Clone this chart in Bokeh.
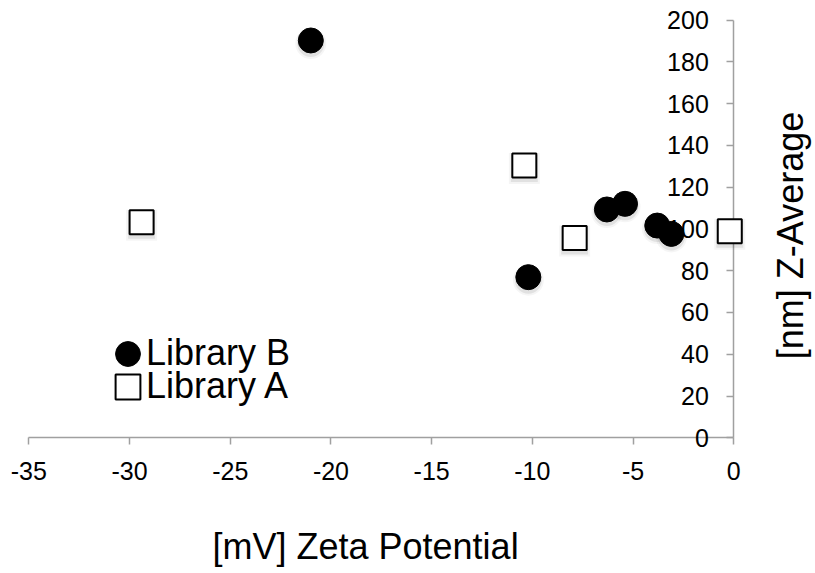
import math
from bokeh.plotting import figure
from bokeh.models import (LinearAxis, FixedTicker, Range1d, Legend, LegendItem,
                          CustomJSTickFormatter, Label, ColumnDataSource)
from bokeh.transform import dodge
from bokeh.embed import file_html
from bokeh.resources import INLINE

# ---- data ----
series_names = ["Library B", "Library A"]
lib_b_x = [-21.0, -10.2, -6.3, -5.4, -3.8, -3.1]
lib_b_y = [190.2, 76.9, 109.3, 112.0, 101.6, 97.6]
lib_a_x = [-29.4, -10.4, -7.9, -0.2]
lib_a_y = [103.2, 130.3, 95.6, 98.9]
x_ticks = [-35, -30, -25, -20, -15, -10, -5, 0]
y_ticks = [0, 20, 40, 60, 80, 100, 120, 140, 160, 180, 200]
x_title = "[mV] Zeta Potential"
y_title = "[nm] Z-Average"

# ---- layout (pixels) ----
W, H = 814, 572
X_ORIGIN_PX = 28.3      # where x = -35 sits
X_PX_PER_UNIT = 20.143
Y_ORIGIN_PX = 437.3     # where y = 0 sits
Y_PX_PER_UNIT = 2.089
SHADOW_PX = 3

FONT = "Liberation Sans"
GRAY = "#a0a0a0"

x_lo = x_ticks[0] - X_ORIGIN_PX / X_PX_PER_UNIT
x_hi = x_ticks[0] + (W - X_ORIGIN_PX) / X_PX_PER_UNIT
y_hi = Y_ORIGIN_PX / Y_PX_PER_UNIT
y_lo = -(H - Y_ORIGIN_PX) / Y_PX_PER_UNIT

p = figure(frame_width=W, frame_height=H,
           x_range=Range1d(x_lo, x_hi), y_range=Range1d(y_lo, y_hi),
           output_backend="svg", toolbar_location=None,
           x_axis_location=None, y_axis_location=None,
           min_border=0)
p.grid.visible = False
p.outline_line_color = None
p.background_fill_color = "white"
p.border_fill_color = "white"

fmt = CustomJSTickFormatter(code="return tick.toString();")
xaxis = LinearAxis(ticker=FixedTicker(ticks=x_ticks), bounds=(x_ticks[0], x_ticks[-1]),
                   fixed_location=y_ticks[0], formatter=fmt)
yaxis = LinearAxis(ticker=FixedTicker(ticks=y_ticks), bounds=(y_ticks[0], y_ticks[-1]),
                   fixed_location=x_ticks[-1], formatter=fmt)
for ax in (xaxis, yaxis):
    ax.level = "underlay"
    ax.axis_line_color = GRAY
    ax.axis_line_width = 1.5
    ax.major_tick_line_color = GRAY
    ax.major_tick_line_width = 1.5
    ax.major_tick_out = 7
    ax.major_tick_in = 0
    ax.minor_tick_line_color = None
    ax.major_label_text_font = FONT
    ax.major_label_text_font_size = "25px"
    ax.major_label_text_color = "black"
xaxis.major_label_standoff = 17
yaxis.major_label_standoff = 18
p.add_layout(xaxis, "below")
p.add_layout(yaxis, "left")

# axis titles
p.add_layout(Label(x=212, y=H - 546, x_units="screen", y_units="screen", text=x_title,
                   text_align="left", text_baseline="middle", text_font=FONT,
                   text_font_size="36px", text_color="black"))
p.add_layout(Label(x=790, y=H - 235, x_units="screen", y_units="screen", text=y_title,
                   angle=math.pi / 2, text_align="center", text_baseline="middle",
                   text_font=FONT, text_font_size="36px", text_color="black"))

src_a = ColumnDataSource(dict(x=lib_a_x, y=lib_a_y))
src_b = ColumnDataSource(dict(x=lib_b_x, y=lib_b_y))
sy = dodge("y", -SHADOW_PX / Y_PX_PER_UNIT, range=p.y_range)

# soft drop shadows
for size, alpha in ((31, 0.04), (27, 0.08)):
    p.rect(x="x", y=sy, width=size, height=size, width_units="screen",
           height_units="screen", fill_color="black", fill_alpha=alpha,
           line_color=None, source=src_a)
    p.ellipse(x="x", y=sy, width=size, height=size, width_units="screen",
              height_units="screen", fill_color="black", fill_alpha=alpha,
              line_color=None, source=src_b)

ra = p.rect(x="x", y="y", width=24, height=24, width_units="screen",
            height_units="screen", fill_color="white", line_color="black",
            line_width=2, source=src_a)
rb = p.ellipse(x="x", y="y", width=25, height=25, width_units="screen",
               height_units="screen", fill_color="black", line_color="black",
               source=src_b)

common = dict(orientation="vertical", glyph_width=31, glyph_height=31, label_standoff=3,
              padding=0, margin=0, border_line_color=None, background_fill_alpha=0,
              label_text_font=FONT, label_text_font_size="36px",
              label_text_color="black", label_text_line_height=0.8)
leg_b = Legend(items=[LegendItem(label=series_names[0], renderers=[rb])],
               location=(112, 198), **common)
leg_a = Legend(items=[LegendItem(label=series_names[1], renderers=[ra])],
               location=(112, 165), **common)
p.add_layout(leg_b)
p.add_layout(leg_a)

open("out.html", "w").write(file_html(p, INLINE))
